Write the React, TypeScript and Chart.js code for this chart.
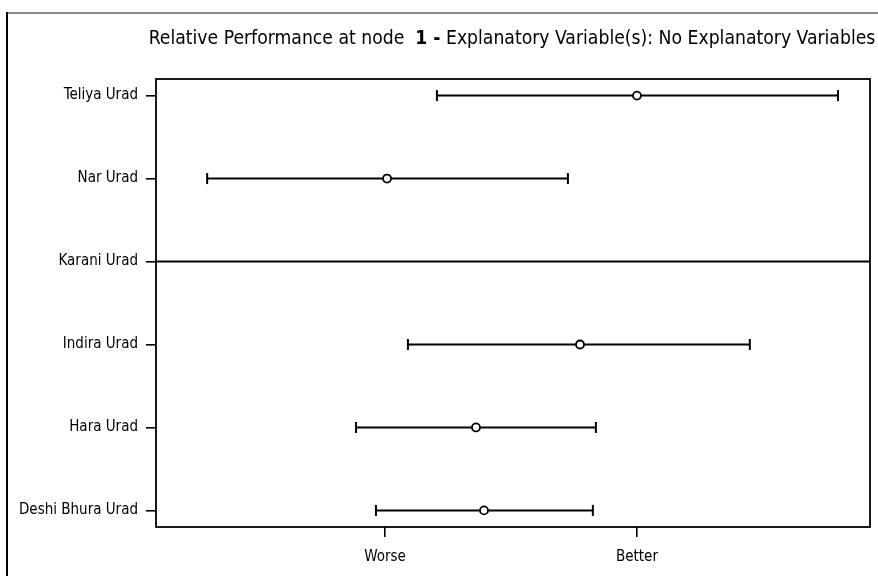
import React, { useEffect, useRef } from "react";
import { Chart, registerables } from "chart.js";
Chart.register(...registerables);

// bottom to top
const varieties = ["Deshi Bhura Urad", "Hara Urad", "Indira Urad", "Karani Urad", "Nar Urad", "Teliya Urad"];
const estimates = [0.393, 0.361, 0.774, null, 0.008, 1.0];
const lowerCI = [-0.036, -0.115, 0.091, null, -0.706, 0.206];
const upperCI = [0.825, 0.837, 1.448, null, 0.726, 1.798];
const referenceVariety = "Karani Urad";
const xTickValues = [0, 1];
const xTickLabels = ["Worse", "Better"];
const xMin = -0.909;
const xMax = 1.925;
const titleParts = [
  { text: "Relative Performance at node  ", bold: false },
  { text: "1 -", bold: true },
  { text: " Explanatory Variable(s): No Explanatory Variables", bold: false },
];

const FONT = "'Liberation Sans Narrow', 'DejaVu Sans Condensed', 'Liberation Sans', sans-serif";
const TITLE_SIZE = 19.2;

const framePlugin = {
  id: "frame",
  beforeDraw(chart: any) {
    const ctx = chart.ctx;
    ctx.save();
    ctx.fillStyle = "#ffffff";
    ctx.fillRect(0, 0, chart.width, chart.height);
    ctx.restore();
  },
  afterDraw(chart: any) {
    const ctx = chart.ctx;
    const a = chart.chartArea;
    ctx.save();
    // outer frame
    ctx.strokeStyle = "#888888";
    ctx.lineWidth = 2;
    ctx.beginPath();
    ctx.moveTo(6, 13);
    ctx.lineTo(chart.width, 13);
    ctx.stroke();
    ctx.strokeStyle = "#000000";
    ctx.beginPath();
    ctx.moveTo(7, 12);
    ctx.lineTo(7, chart.height);
    ctx.stroke();
    // plot box
    ctx.lineWidth = 1.8;
    ctx.strokeRect(a.left, a.top, a.right - a.left, a.bottom - a.top);
    // title
    ctx.fillStyle = "#000000";
    ctx.textBaseline = "middle";
    ctx.textAlign = "left";
    const fontOf = (b: boolean) => (b ? "bold " : "") + TITLE_SIZE + "px " + FONT;
    let total = 0;
    const widths = titleParts.map((p) => {
      ctx.font = fontOf(p.bold);
      const w = ctx.measureText(p.text).width;
      total += w;
      return w;
    });
    let x = (a.left + a.right) / 2 - total / 2 - 1;
    titleParts.forEach((p, i) => {
      ctx.font = fontOf(p.bold);
      ctx.fillText(p.text, x, 39);
      x += widths[i];
    });
    ctx.restore();
  },
};

export default function App() {
  const ref = useRef<HTMLCanvasElement | null>(null);
  useEffect(() => {
    if (!ref.current) return;
    const datasets: any[] = [];
    const points: any[] = [];
    varieties.forEach((v, i) => {
      const y = i + 1;
      if (v === referenceVariety) {
        datasets.push({
          data: [{ x: xMin, y }, { x: xMax, y }],
          showLine: true,
          borderColor: "#000",
          borderWidth: 2,
          pointRadius: 0,
          order: 2,
        });
        return;
      }
      datasets.push({
        data: [{ x: lowerCI[i], y }, { x: upperCI[i], y }],
        showLine: true,
        borderColor: "#000",
        borderWidth: 2,
        pointStyle: "line",
        rotation: 90,
        pointRadius: 5.5,
        pointBorderWidth: 2,
        pointBorderColor: "#000",
        order: 1,
      });
      points.push({ x: estimates[i], y });
    });
    datasets.push({
      data: points,
      pointStyle: "circle",
      pointRadius: 4,
      pointBorderWidth: 1.8,
      pointBorderColor: "#000",
      pointBackgroundColor: "#fff",
      order: 0,
    });
    const chart = new Chart(ref.current, {
      type: "scatter",
      data: { datasets },
      plugins: [framePlugin],
      options: {
        animation: false,
        responsive: false,
        events: [],
        layout: { padding: { top: 79, right: 8, left: 0, bottom: 0 } },
        plugins: { legend: { display: false }, tooltip: { enabled: false }, title: { display: false } },
        scales: {
          x: {
            type: "linear",
            min: xMin,
            max: xMax,
            afterBuildTicks: (s: any) => {
              s.ticks = xTickValues.map((v) => ({ value: v }));
            },
            afterFit: (s: any) => {
              s.height = 49;
            },
            ticks: {
              color: "#000",
              font: { family: FONT, size: 15 },
              padding: 11,
              autoSkip: false,
              maxRotation: 0,
              callback: (v: any) => {
                const k = xTickValues.indexOf(Number(v));
                return k >= 0 ? xTickLabels[k] : "";
              },
            },
            grid: { drawOnChartArea: false, drawTicks: true, tickLength: 10, color: "#000", lineWidth: 1.6 },
            border: { display: false },
          },
          y: {
            type: "linear",
            min: 0.8,
            max: 6.2,
            afterBuildTicks: (s: any) => {
              s.ticks = varieties.map((_, i) => ({ value: i + 1 }));
            },
            afterFit: (s: any) => {
              s.width = 156;
            },
            ticks: {
              color: "#000",
              font: { family: FONT, size: 15 },
              padding: 8,
              autoSkip: false,
              callback: (v: any) => varieties[Number(v) - 1] ?? "",
            },
            grid: { drawOnChartArea: false, drawTicks: true, tickLength: 10, color: "#000", lineWidth: 1.6 },
            border: { display: false },
          },
        },
      } as any,
    });
    return () => chart.destroy();
  }, []);
  return (
    <div style={{ position: "fixed", left: 0, top: 0, width: 878, height: 576, background: "#fff" }}>
      <canvas ref={ref} width={878} height={576} />
    </div>
  );
}
